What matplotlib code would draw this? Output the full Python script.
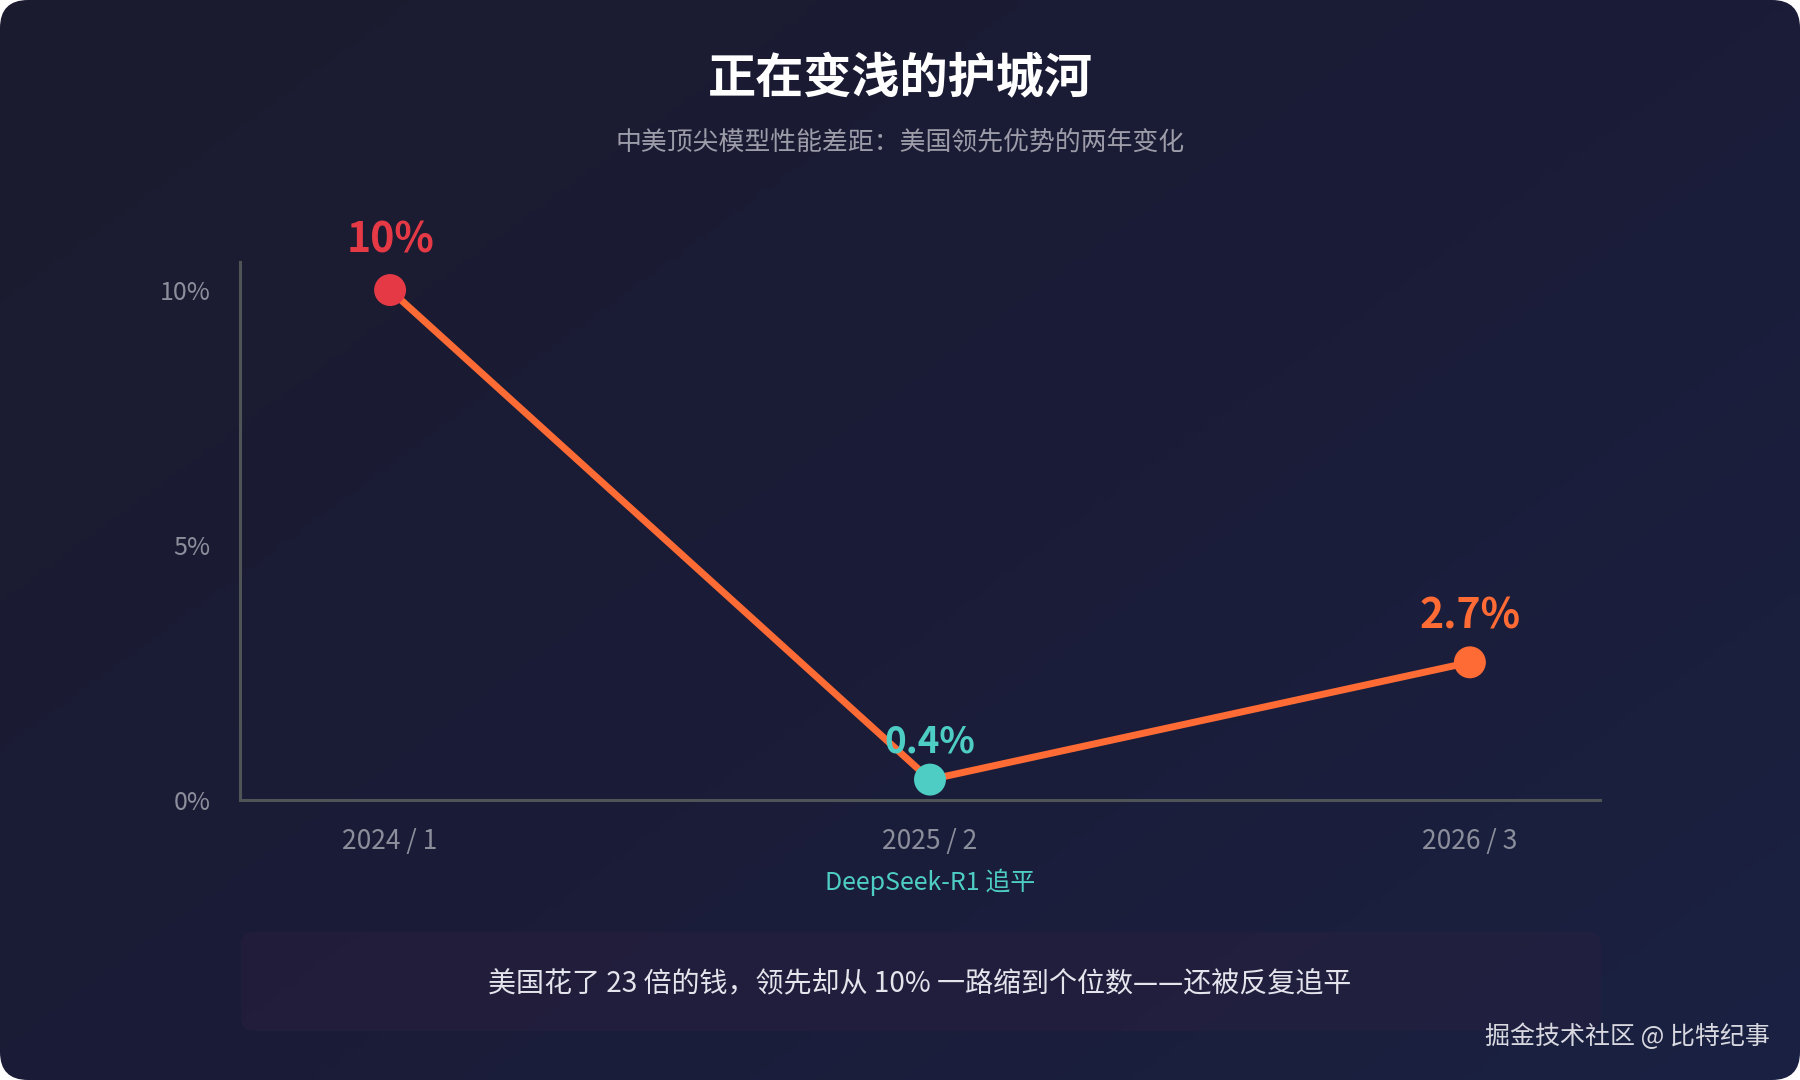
import matplotlib

matplotlib.use("Agg")
import matplotlib.pyplot as plt
import numpy as np
from matplotlib.colors import LinearSegmentedColormap
from matplotlib.patches import FancyBboxPatch

TITLE = "正在变浅的护城河"
SUBTITLE = "中美顶尖模型性能差距：美国领先优势的两年变化"
PERIODS = ["2024 / 1", "2025 / 2", "2026 / 3"]
GAP_PCT = [10.0, 0.4, 2.7]
VALUE_LABELS = ["10%", "0.4%", "2.7%"]
Y_TICKS = [0, 5, 10]
Y_TICK_LABELS = ["0%", "5%", "10%"]
EVENT_NOTE = "DeepSeek-R1 追平"
FOOTNOTE = "美国花了 23 倍的钱，领先却从 10% 一路缩到个位数——还被反复追平"
CREDIT = "掘金技术社区 @ 比特纪事"

POINT_COLORS = ["#e63946", "#4ecdc4", "#ff6b35"]
LINE_COLOR = "#ff6b35"
TEAL = "#4ecdc4"
AXIS_GREY = "#4f5557"
TICK_GREY = "#8c8f9b"

W, H = 1800, 1080

plt.rcParams["font.family"] = ["Noto Sans CJK SC", "DejaVu Sans"]


def px(x, y):
    # pixel position (top-left origin) -> figure fraction
    return x / W, 1 - y / H


fig = plt.figure(figsize=(W / 100, H / 100), dpi=100)
fig.patch.set_facecolor("white")

# rounded card with a soft diagonal gradient (top-left darker, bottom-right bluer)
bg = fig.add_axes([0, 0, 1, 1])
bg.set_xlim(0, W)
bg.set_ylim(0, H)
bg.axis("off")
yy, xx = np.mgrid[0:1:200j, 0:1:300j]
grad = 0.55 * xx + 0.45 * yy
cmap = LinearSegmentedColormap.from_list("card", ["#1c1b2f", "#1a1c37", "#1a2142"])
im = bg.imshow(grad, extent=[0, W, 0, H], origin="upper", cmap=cmap, aspect="auto", zorder=0)
card = FancyBboxPatch((0, 0), W, H, boxstyle="round,pad=0,rounding_size=28",
                      transform=bg.transData, facecolor="none", edgecolor="none")
bg.add_patch(card)
im.set_clip_path(card)

footer_box = FancyBboxPatch((241, H - 1031), 1360, 99, boxstyle="round,pad=0,rounding_size=14",
                            facecolor="#2a1f40", edgecolor="none", alpha=0.45, zorder=1)
bg.add_patch(footer_box)

# main chart
ax = fig.add_axes([240 / W, 1 - 800 / H, 1360 / W, 538 / H])
ax.set_facecolor("none")
x = np.arange(len(PERIODS))
ax.plot(x, GAP_PCT, color=LINE_COLOR, linewidth=5, solid_capstyle="round", zorder=2)
ax.scatter(x, GAP_PCT, s=23 ** 2, c=POINT_COLORS, edgecolors="none", zorder=3, clip_on=False)

label_offsets = [36, 27, 33]
label_sizes = [29.5, 26.5, 29.5]
for xi, val, text, color, off, fs in zip(x, GAP_PCT, VALUE_LABELS, POINT_COLORS,
                                         label_offsets, label_sizes):
    ax.annotate(text, xy=(xi, val), xytext=(0, off), textcoords="offset points",
                ha="center", va="center", fontsize=fs, fontweight="bold", color=color,
                zorder=5, annotation_clip=False)

ax.annotate(EVENT_NOTE, xy=(1, 0), xycoords=("data", "axes fraction"), xytext=(0, -59),
            textcoords="offset points", ha="center", va="center", fontsize=18, color=TEAL,
            annotation_clip=False)

ax.set_xlim(-0.278, 2.241)
ax.set_ylim(0, 10.55)
ax.set_xticks(x, PERIODS)
ax.set_yticks(Y_TICKS, Y_TICK_LABELS)
ax.tick_params(axis="y", length=0, pad=21, labelsize=18, labelcolor=TICK_GREY)
ax.tick_params(axis="x", length=0, pad=20, labelsize=19, labelcolor=TICK_GREY)
for side in ("top", "right"):
    ax.spines[side].set_visible(False)
for side in ("left", "bottom"):
    ax.spines[side].set_color(AXIS_GREY)
    ax.spines[side].set_linewidth(2.2)

# titles and notes
fig.text(*px(900, 78), TITLE, ha="center", va="center", fontsize=34.7, fontweight="bold", color="white")
fig.text(*px(900, 142), SUBTITLE, ha="center", va="center", fontsize=18.6, color="#9d9ca9")
fig.text(*px(920, 984), FOOTNOTE, ha="center", va="center", fontsize=20.2, color="#e4e4ec")
fig.text(*px(1770, 1037), CREDIT, ha="right", va="center", fontsize=18, color="#d8d8e0")

fig.savefig("out.png", dpi=100)
plt.close(fig)
